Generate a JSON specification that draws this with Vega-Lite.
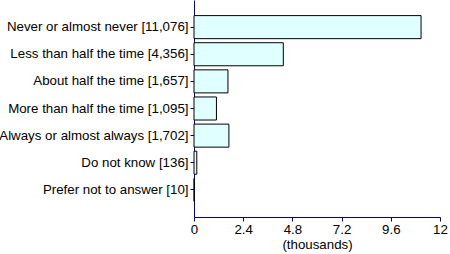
{
  "$schema": "https://vega.github.io/schema/vega-lite/v6.json",
  "autosize": {"type": "none"},
  "padding": {"left": 194, "top": 0, "right": 10, "bottom": 37},
  "width": 246,
  "height": 217,
  "background": "white",
  "config": {
    "view": {"stroke": null},
    "font": "Liberation Sans",
    "axis": {"grid": false, "domainColor": "#000080", "tickColor": "#000080", "labelColor": "black", "titleColor": "black", "labelFont": "Liberation Sans", "titleFont": "Liberation Sans", "labelFontSize": 13.3, "titleFontSize": 13.3, "titleFontWeight": "normal"}
  },
  "data": {
    "values": [
      {"label": "Never or almost never [11,076]", "value": 11.076},
      {"label": "Less than half the time [4,356]", "value": 4.356},
      {"label": "About half the time [1,657]", "value": 1.657},
      {"label": "More than half the time [1,095]", "value": 1.095},
      {"label": "Always or almost always [1,702]", "value": 1.702},
      {"label": "Do not know [136]", "value": 0.136},
      {"label": "Prefer not to answer [10]", "value": 0.01}
    ]
  },
  "mark": {"type": "bar", "fill": "#e0ffff", "stroke": "black", "strokeWidth": 1},
  "encoding": {
    "y": {
      "field": "label", "type": "nominal", "sort": null,
      "scale": {"paddingInner": 0.15, "paddingOuter": 0.575},
      "axis": {"title": null, "tickSize": 4, "labelPadding": 2, "labelLimit": 300}
    },
    "x": {
      "field": "value", "type": "quantitative",
      "scale": {"domain": [0, 12], "nice": false},
      "axis": {"values": [0, 2.4, 4.8, 7.2, 9.6, 12], "title": "(thousands)", "tickSize": 4, "labelPadding": 1, "titlePadding": 2, "format": "~g", "labelFlush": false}
    }
  }
}
